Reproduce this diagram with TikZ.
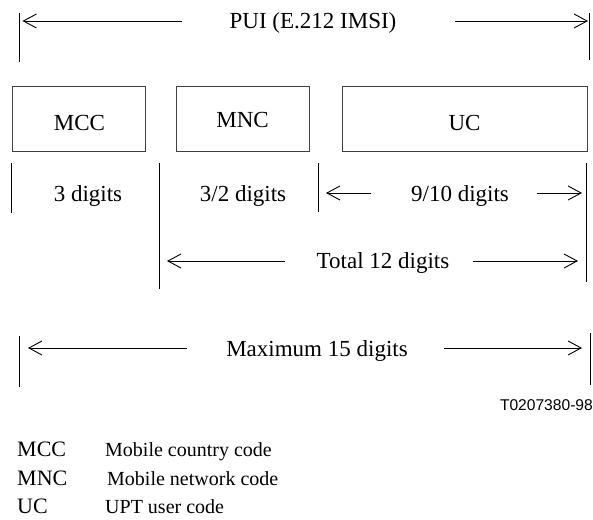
\documentclass[tikz,border=0pt]{standalone}
\usepackage{fontspec}
\setmainfont{Liberation Serif}
\newfontfamily\tagfont{Liberation Sans}
\usetikzlibrary{arrows.meta}
\tikzset{
  field/.style={draw=black!75, line width=1pt, minimum height=65pt, inner sep=0pt},
  bar/.style={line width=1pt},
  dimline/.style={line width=0.9pt, -{Straight Barb[length=13pt,width=14pt]}},
  lbl/.style={font=\fontsize{23}{27}\selectfont, anchor=base, inner sep=0pt},
  legabbr/.style={font=\fontsize{22}{26}\selectfont, anchor=base west, inner sep=0pt},
  legtext/.style={font=\fontsize{20}{24}\selectfont, anchor=base west, inner sep=0pt},
}
\begin{document}
\begin{tikzpicture}[x=1pt, y=-1pt]
  \useasboundingbox (0,0) rectangle (593,519);
  %
  % PUI span
  \coordinate (puiW1) at (19,13);  \coordinate (puiW2) at (19,62);
  \coordinate (puiE1) at (589,13); \coordinate (puiE2) at (589,60);
  \draw[bar] (puiW1) -- (puiW2);
  \draw[bar] (puiE1) -- (puiE2);
  \node[lbl] (pui) at (313,29) {PUI (E.212 IMSI)};
  \coordinate (puiL) at (182,21);  \coordinate (puiR) at (455,21);
  \draw[dimline, shorten >=3.5pt] (puiL) -- (puiW1 |- puiL);
  \draw[dimline, shorten >=1pt] (puiR) -- (puiE1 |- puiR);
  %
  % fields
  \node[field, minimum width=133pt] (mcc) at (79.4,118.5) {};
  \node[field, minimum width=133pt] (mnc) at (242.5,118.5) {};
  \node[field, minimum width=245pt] (uc)  at (464.5,118.5) {};
  \node[lbl, anchor=center] (mccname) at ([yshift=-4.5pt]mcc.center) {MCC};
  \node[lbl, anchor=center] (mncname) at ([yshift=-1pt]mnc.center) {MNC};
  \node[lbl, anchor=center] (ucname)  at ([yshift=-4.5pt]uc.center) {UC};
  %
  % digit counts
  \coordinate (mccT) at (11,163);  \coordinate (mccB) at (11,213);
  \coordinate (mncT) at (159,163); \coordinate (mncB) at (159,289);
  \coordinate (ucT)  at (318,163); \coordinate (ucB)  at (318,212);
  \coordinate (endT) at (586,163); \coordinate (endB) at (586,282);
  \draw[bar] (mccT) -- (mccB);
  \draw[bar] (mncT) -- (mncB);
  \draw[bar] (ucT) -- (ucB);
  \draw[bar] (endT) -- (endB);
  \node[lbl] (mccdig) at (88,201) {3 digits};
  \node[lbl] (mncdig) at (243,201) {3/2 digits};
  \node[lbl] (ucdig)  at (460,201) {9/10 digits};
  \coordinate (ucL) at (371,193);  \coordinate (ucR) at (537,193);
  \draw[dimline, shorten >=8pt] (ucL) -- (ucT |- ucL);
  \draw[dimline, shorten >=4pt] (ucR) -- (endT |- ucR);
  %
  % total
  \node[lbl] (total) at (383,268) {Total 12 digits};
  \coordinate (totL) at (285,261); \coordinate (totR) at (473,261);
  \draw[dimline, shorten >=8pt] (totL) -- (mncT |- totL);
  \draw[dimline, shorten >=8pt] (totR) -- (endT |- totR);
  %
  % maximum
  \coordinate (maxW1) at (19,336);  \coordinate (maxW2) at (19,387);
  \coordinate (maxE1) at (590,333); \coordinate (maxE2) at (590,385);
  \draw[bar] (maxW1) -- (maxW2);
  \draw[bar] (maxE1) -- (maxE2);
  \node[lbl] (max) at (317,356) {Maximum 15 digits};
  \coordinate (maxL) at (187,348); \coordinate (maxR) at (444,348);
  \draw[dimline, shorten >=9pt] (maxL) -- (maxW1 |- maxL);
  \draw[dimline, shorten >=8pt] (maxR) -- (maxE1 |- maxR);
  %
  \node[anchor=base east, inner sep=0pt, font=\tagfont\fontsize{15.6}{18}\selectfont] (tag) at (593,410) {T0207380-98};
  %
  % legend
  \node[legabbr] (legmcc) at (17,456) {MCC};
  \node[legtext] (legmcct) at (105,456) {Mobile country code};
  \node[legabbr] (legmnc) at (17,485) {MNC};
  \node[legtext] (legmnct) at (107,485) {Mobile network code};
  \node[legabbr] (leguc) at (17,513) {UC};
  \node[legtext] (leguct) at (105,513) {UPT user code};
\end{tikzpicture}
\end{document}
